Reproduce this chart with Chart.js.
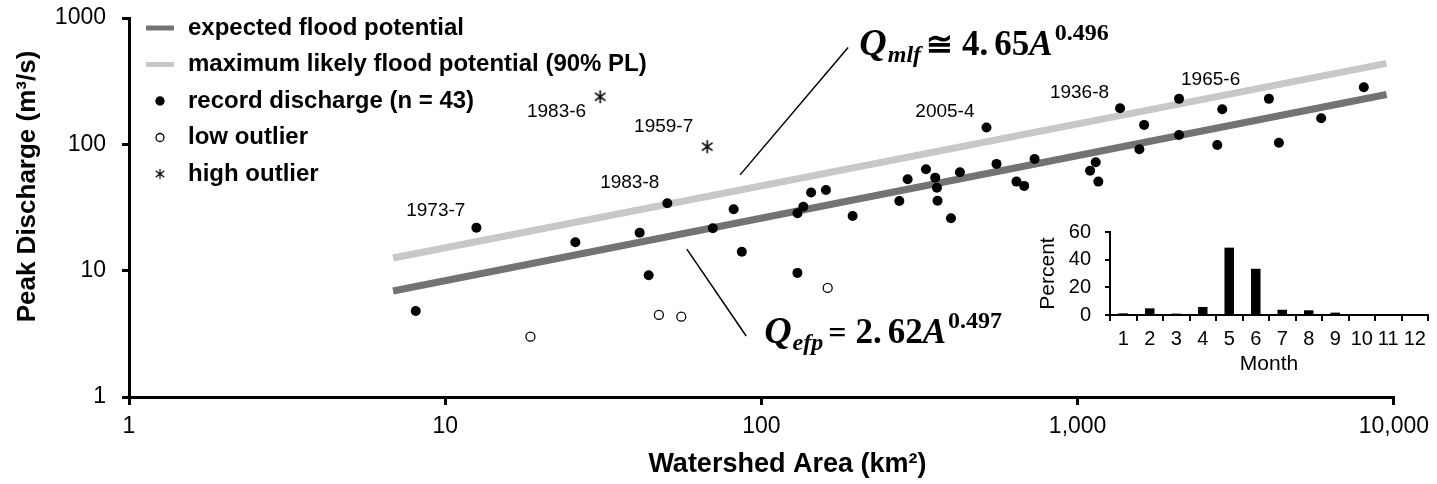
<!DOCTYPE html>
<html>
<head>
<meta charset="utf-8">
<script src="https://cdn.jsdelivr.net/npm/chart.js@4.4.1/dist/chart.umd.min.js"></script>
<style>
  html, body { margin: 0; padding: 0; background: #fff; }
  #wrap { position: relative; width: 1437px; height: 484px; }
  #mainChart { position: absolute; left: 0; top: 0; }
  #monthChart { position: absolute; left: 1030px; top: 220px; }
</style>
</head>
<body>
<div id="wrap">
  <canvas id="mainChart" width="1437" height="484"></canvas>
  <canvas id="monthChart" width="407" height="165"></canvas>
</div>
<script>
// Record discharge: watershed area (km2) and peak discharge (m3/s)
const recordArea = [8.07, 12.55, 25.8, 41.2, 44.0, 50.4, 70.2, 81.7, 86.7, 130, 130, 135.7,
    143.6, 160, 194.3, 273, 290, 331.5, 354.6, 359, 360.6, 397.6, 424.4, 515, 554, 640.6,
    677.6, 731, 1095, 1141, 1163, 1362, 1568, 1623, 2093, 2093, 2765, 2867, 4027, 4331, 5893, 8037];
const recordQ = [4.8, 21.9, 16.8, 20.0, 9.2, 34.2, 21.7, 30.6, 14.1, 9.6, 28.5, 32.1,
    41.5, 43.5, 27.1, 35.6, 52.9, 63.5, 54.5, 45.4, 35.8, 26.0, 60.1, 136, 70.0, 50.7,
    46.9, 76.6, 61.9, 72.1, 50.7, 193, 91.4, 142.5, 229, 118.7, 98.9, 189.7, 229, 103, 161, 283];

// Outliers
const lowArea = [18.6, 47.4, 55.8, 162];
const lowQ = [3.0, 4.46, 4.32, 7.3];
const highArea = [30.9, 67.4];
const highQ = [238, 95.9];

// Fitted lines (end points)
const efpArea = [6.84, 9485];
const efpQ = [6.9, 248];
const mlfArea = [6.84, 9485];
const mlfQ = [12.6, 437];

// Leader lines from the equations to the fitted lines
const efpLeaderArea = [58.1, 89.5];
const efpLeaderQ = [14.8, 3.04];
const mlfLeaderArea = [85.6, 188];
const mlfLeaderQ = [57.3, 583];

// Labelled events (year-month), pointing at a point of a series
const eventNames = ["1983-6", "1959-7", "1983-8", "1973-7", "2005-4", "1936-8", "1965-6"];
const eventSeries = ["high", "high", "record", "record", "record", "record", "record"];
const eventIndex = [0, 1, 5, 1, 23, 31, 34];

// Axis ticks
const xTickValues = [1, 10, 100, 1000, 10000];
const xTickLabels = ["1", "10", "100", "1,000", "10,000"];
const yTickValues = [1, 10, 100, 1000];
const yTickLabels = ["1", "10", "100", "1000"];

// Inset: share of record floods by month
const months = ["1", "2", "3", "4", "5", "6", "7", "8", "9", "10", "11", "12"];
const monthPercent = [1.2, 4.8, 1.0, 5.8, 48.7, 33.4, 3.8, 3.4, 1.7, 0, 0, 0];

const sansFont = "'Liberation Sans', Arial, sans-serif";
const serifFont = "'Liberation Serif', 'DejaVu Serif', serif";

Chart.defaults.font.family = sansFont;
Chart.defaults.color = "#000";

// Label placement relative to the point (pixels)
const eventLabelStyle = [
    { dx: -14, dy: 15, align: "right" },
    { dx: -14, dy: -20, align: "right" },
    { dx: -8, dy: -20, align: "right" },
    { dx: -11, dy: -17, align: "right" },
    { dx: -12, dy: -16, align: "right" },
    { dx: -11, dy: -15, align: "right" },
    { dx: 2, dy: -19, align: "left" }
];

// Equation anchors (data coordinates of the text's left baseline)
const eqMlfAnchor = { area: 204, q: 510 };
const eqEfpAnchor = { area: 102, q: 2.68 };

function toPoints(xs, ys) {
    return xs.map((x, i) => ({ x: x, y: ys[i] }));
}

// 6-arm asterisk for high outliers
function makeAsterisk(size) {
    const c = document.createElement("canvas");
    c.width = size;
    c.height = size;
    const g = c.getContext("2d");
    const m = size / 2, r = size / 2 - 1;
    g.strokeStyle = "#000";
    g.lineWidth = 1.6;
    g.beginPath();
    g.moveTo(m, m - r); g.lineTo(m, m + r);
    const dx = r * Math.cos(Math.PI / 5), dy = r * Math.sin(Math.PI / 5);
    g.moveTo(m - dx, m - dy); g.lineTo(m + dx, m + dy);
    g.moveTo(m - dx, m + dy); g.lineTo(m + dx, m - dy);
    g.stroke();
    return c;
}

const asterisk = makeAsterisk(15);

function drawRich(ctx, x0, y0, parts) {
    let cx = x0;
    ctx.textAlign = "left";
    ctx.textBaseline = "alphabetic";
    parts.forEach(p => {
        ctx.font = p.font;
        ctx.fillText(p.text, cx, y0 + (p.dy || 0));
        cx += ctx.measureText(p.text).width + (p.gap || 0);
    });
}

function equationParts(sub, op, coefA, coefB, power) {
    return [
        { text: "Q", font: `bold italic 38px ${serifFont}`, gap: 1 },
        { text: sub, font: `bold italic 24px ${serifFont}`, dy: 7, gap: 5 },
        { text: op, font: `bold 32px ${serifFont}`, gap: 9 },
        { text: coefA, font: `bold 35px ${serifFont}`, gap: 6 },
        { text: coefB, font: `bold 35px ${serifFont}` },
        { text: "A", font: `bold italic 35px ${serifFont}`, gap: 2 },
        { text: power, font: `bold 24px ${serifFont}`, dy: -15 }
    ];
}

// Vertical scales add label overflow + tick padding on top; drop it so layout padding rules
function noVerticalOverflow(s) {
    s.paddingTop = 0;
    s.paddingBottom = 0;
}

const annotationPlugin = {
    id: "annotations",
    afterDatasetsDraw(chart) {
        const { ctx, chartArea, scales: { x, y } } = chart;
        ctx.save();

        // Axis titles
        ctx.fillStyle = "#000";
        ctx.font = `bold 26px ${sansFont}`;
        ctx.textAlign = "center";
        ctx.textBaseline = "middle";
        ctx.save();
        ctx.translate(28, (chartArea.top + chartArea.bottom) / 2 - 21);
        ctx.rotate(-Math.PI / 2);
        ctx.fillText("Peak Discharge (m\u00b3/s)", 0, 0);
        ctx.restore();
        ctx.font = `bold 27px ${sansFont}`;
        ctx.fillText("Watershed Area (km\u00b2)", (chartArea.left + chartArea.right) / 2 + 26, 465);

        // Year labels next to notable floods
        ctx.font = `19px ${sansFont}`;
        ctx.textBaseline = "middle";
        eventNames.forEach((name, i) => {
            const src = eventSeries[i] === "high" ? [highArea, highQ] : [recordArea, recordQ];
            const px = x.getPixelForValue(src[0][eventIndex[i]]);
            const py = y.getPixelForValue(src[1][eventIndex[i]]);
            const st = eventLabelStyle[i];
            ctx.textAlign = st.align;
            ctx.fillText(name, px + st.dx, py + st.dy);
        });

        // Equations
        drawRich(ctx, x.getPixelForValue(eqMlfAnchor.area), y.getPixelForValue(eqMlfAnchor.q),
            equationParts("mlf", "\u2245", "4.", "65", "0.496"));
        drawRich(ctx, x.getPixelForValue(eqEfpAnchor.area), y.getPixelForValue(eqEfpAnchor.q),
            equationParts("efp", "=", "2.", "62", "0.497"));

        // Legend (top-left, one item per row)
        const ds = chart.data.datasets;
        const items = [ds[3], ds[4], ds[0], ds[1], ds[2]];
        const symX = chartArea.left + 31;
        const textX = chartArea.left + 59;
        items.forEach((d, i) => {
            const ly = chartArea.top + 10 + i * 36.5;
            if (d.showLine) {
                ctx.strokeStyle = d.borderColor;
                ctx.lineWidth = 5;
                ctx.lineCap = "butt";
                ctx.beginPath();
                ctx.moveTo(symX - 14, ly);
                ctx.lineTo(symX + 14, ly);
                ctx.stroke();
            } else if (d.pointStyle === asterisk) {
                ctx.drawImage(asterisk, symX - 6, ly - 6, 12, 12);
            } else {
                ctx.beginPath();
                ctx.arc(symX, ly, 4, 0, Math.PI * 2);
                ctx.fillStyle = d.backgroundColor;
                ctx.fill();
                ctx.lineWidth = 1.3;
                ctx.strokeStyle = "#000";
                ctx.stroke();
            }
            ctx.fillStyle = "#000";
            ctx.font = `bold 24px ${sansFont}`;
            ctx.textAlign = "left";
            ctx.textBaseline = "middle";
            ctx.fillText(d.label, textX, ly);
        });

        ctx.restore();
    }
};

function createMainChart() {
    const ctx = document.getElementById("mainChart").getContext("2d");

    window.mainChart = new Chart(ctx, {
        type: "scatter",
        data: {
            datasets: [
                {
                    label: "record discharge (n = 43)",
                    data: toPoints(recordArea, recordQ),
                    pointStyle: "circle",
                    pointRadius: 5,
                    backgroundColor: "#000",
                    borderColor: "#000",
                    borderWidth: 0
                },
                {
                    label: "low outlier",
                    data: toPoints(lowArea, lowQ),
                    pointStyle: "circle",
                    pointRadius: 4.5,
                    backgroundColor: "#fff",
                    borderColor: "#000",
                    borderWidth: 1.3
                },
                {
                    label: "high outlier",
                    data: toPoints(highArea, highQ),
                    pointStyle: asterisk,
                    pointRadius: 7
                },
                {
                    label: "expected flood potential",
                    data: toPoints(efpArea, efpQ),
                    showLine: true,
                    borderColor: "#737373",
                    borderWidth: 7,
                    pointRadius: 0
                },
                {
                    label: "maximum likely flood potential (90% PL)",
                    data: toPoints(mlfArea, mlfQ),
                    showLine: true,
                    borderColor: "#c8c8c8",
                    borderWidth: 7,
                    pointRadius: 0
                },
                {
                    label: "leader efp",
                    data: toPoints(efpLeaderArea, efpLeaderQ),
                    showLine: true,
                    borderColor: "#000",
                    borderWidth: 1.5,
                    pointRadius: 0
                },
                {
                    label: "leader mlf",
                    data: toPoints(mlfLeaderArea, mlfLeaderQ),
                    showLine: true,
                    borderColor: "#000",
                    borderWidth: 1.5,
                    pointRadius: 0
                }
            ]
        },
        options: {
            responsive: false,
            animation: false,
            devicePixelRatio: 1,
            layout: { padding: { top: 18, right: 42, left: 0, bottom: 0 } },
            plugins: {
                legend: { display: false },
                tooltip: { enabled: false }
            },
            scales: {
                x: {
                    type: "logarithmic",
                    min: 1,
                    max: 10000,
                    afterBuildTicks: s => { s.ticks = xTickValues.map(v => ({ value: v })); },
                    afterFit: s => { s.height = 87; },
                    ticks: {
                        callback: (v, i) => xTickLabels[i],
                        font: { size: 23 },
                        color: "#000",
                        padding: 8,
                        maxRotation: 0,
                        autoSkip: false
                    },
                    grid: { drawOnChartArea: false, drawTicks: true, tickLength: 8, color: "#000", lineWidth: 3 },
                    border: { display: true, color: "#000", width: 3 }
                },
                y: {
                    type: "logarithmic",
                    min: 1,
                    max: 1000,
                    afterBuildTicks: s => { s.ticks = yTickValues.map(v => ({ value: v })); },
                    afterFit: s => { s.width = 129; noVerticalOverflow(s); },
                    ticks: {
                        callback: (v, i) => yTickLabels[i],
                        font: { size: 23 },
                        color: "#000",
                        padding: 16,
                        autoSkip: false
                    },
                    grid: { drawOnChartArea: false, drawTicks: true, tickLength: 7, color: "#000", lineWidth: 3 },
                    border: { display: true, color: "#000", width: 3 }
                }
            }
        },
        plugins: [annotationPlugin]
    });
}

function createMonthChart() {
    const ctx = document.getElementById("monthChart").getContext("2d");

    window.monthChart = new Chart(ctx, {
        type: "bar",
        data: {
            labels: months,
            datasets: [{
                label: "Percent",
                data: monthPercent,
                backgroundColor: "#000",
                barPercentage: 0.36,
                categoryPercentage: 1
            }]
        },
        options: {
            responsive: false,
            animation: false,
            devicePixelRatio: 1,
            layout: { padding: { top: 12, right: 9 } },
            plugins: {
                legend: { display: false },
                tooltip: { enabled: false }
            },
            scales: {
                x: {
                    afterFit: s => { s.height = 70; },
                    grid: { offset: true, drawOnChartArea: false, drawTicks: true, tickLength: 6, color: "#000", lineWidth: 2 },
                    border: { display: true, color: "#000", width: 2 },
                    ticks: { font: { size: 20 }, color: "#000", padding: 6, autoSkip: false, maxRotation: 0 },
                    title: { display: true, text: "Month", font: { size: 21 }, color: "#000", padding: { top: 0, bottom: 8 } }
                },
                y: {
                    min: 0,
                    max: 60,
                    afterFit: s => { s.width = 80; noVerticalOverflow(s); },
                    grid: { drawOnChartArea: false, drawTicks: true, tickLength: 5, color: "#000", lineWidth: 2 },
                    border: { display: true, color: "#000", width: 2 },
                    ticks: { stepSize: 20, font: { size: 20 }, color: "#000", padding: 14, autoSkip: false },
                    title: { display: true, text: "Percent", font: { size: 21 }, color: "#000", padding: { top: 6, bottom: 0 } }
                }
            }
        }
    });
}

document.addEventListener("DOMContentLoaded", () => {
    createMainChart();
    createMonthChart();
});
</script>
</body>
</html>
